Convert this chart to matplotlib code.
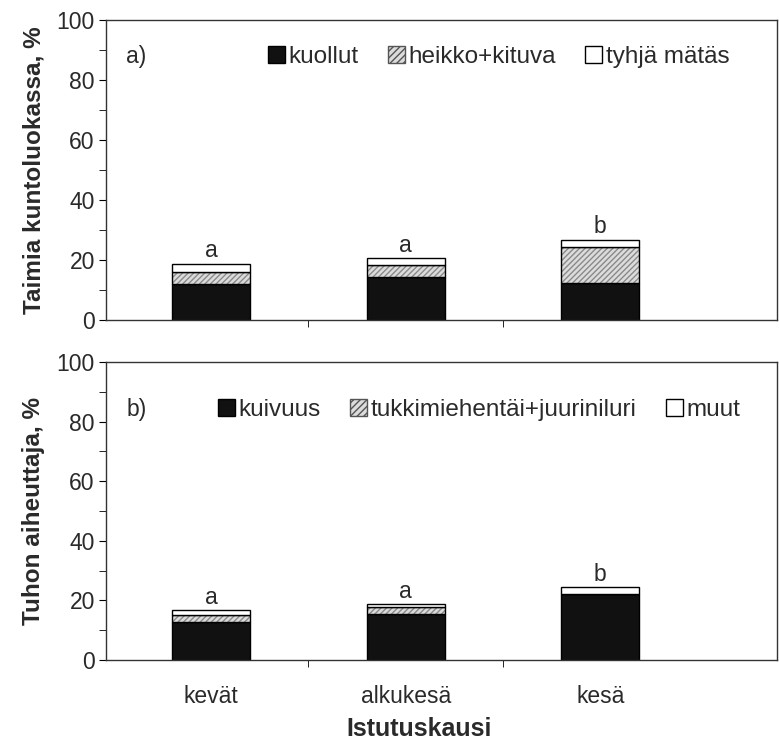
import matplotlib
matplotlib.use("Agg")
import matplotlib.pyplot as plt
from matplotlib.patches import Patch
import numpy as np

plt.rcParams['font.family'] = ['Liberation Sans', 'DejaVu Sans']

categories = ["kevät", "alkukesä", "kesä"]

# panel a) Taimia kuntoluokassa, %
kuollut = [12.0, 14.4, 12.2]
heikko_kituva = [4.0, 3.9, 12.2]
tyhja_matas = [2.7, 2.3, 2.3]
letters_a = ["a", "a", "b"]
legend_a = ["kuollut", "heikko+kituva", "tyhjä mätäs"]

# panel b) Tuhon aiheuttaja, %
kuivuus = [12.9, 15.3, 22.0]
tukkimies = [2.2, 2.6, 0.0]
muut = [1.7, 0.9, 2.6]
letters_b = ["a", "a", "b"]
legend_b = ["kuivuus", "tukkimiehentäi+juuriniluri", "muut"]

yticks = [0, 20, 40, 60, 80, 100]

txt = "#2a2a2a"
FS = 16.5
LFS = 17.5
fig = plt.figure(figsize=(7.79, 7.40), dpi=100)
ax1 = fig.add_axes([0.136, 0.568, 0.862, 0.405])
ax2 = fig.add_axes([0.136, 0.108, 0.862, 0.403])

x = np.arange(len(categories))
w = 0.4
hatch_gray = "#8a8a8a"

def draw(ax, s1, s2, s3, letters, labels, panel, ylabel, lx, ly):
    s1 = np.array(s1); s2 = np.array(s2); s3 = np.array(s3)
    ax.bar(x, s1, w, color="#111111", edgecolor="black", linewidth=1.0)
    ax.bar(x, s2, w, bottom=s1, color="#dcdcdc", edgecolor=hatch_gray,
           hatch="//////", linewidth=0)
    ax.bar(x, s2, w, bottom=s1, fill=False, edgecolor="black", linewidth=1.0)
    ax.bar(x, s3, w, bottom=s1 + s2, color="white", edgecolor="black", linewidth=1.0)
    tot = s1 + s2 + s3
    for xi, t, l in zip(x, tot, letters):
        ax.text(xi, t + 0.4, l, ha="center", va="bottom", fontsize=FS, color=txt)
    ax.set_xlim(-0.54, 2.91)
    ax.set_ylim(0, 100)
    ax.set_yticks(yticks)
    ax.set_yticks([10, 30, 50, 70, 90], minor=True)
    ax.tick_params(axis="y", which="major", length=5, labelsize=FS, labelcolor=txt,
                   direction="out", pad=3)
    ax.tick_params(axis="y", which="minor", length=5, direction="out")
    ax.set_xticks(x)
    ax.set_xticks([0.5, 1.5], minor=True)
    ax.tick_params(axis="x", which="major", length=0, labelsize=FS, labelcolor=txt, pad=18)
    ax.tick_params(axis="x", which="minor", length=5, direction="out")
    for sp in ax.spines.values():
        sp.set_linewidth(1.0)
        sp.set_color("#333333")
    ax.set_ylabel(ylabel, fontsize=17.5, fontweight="bold", color=txt, labelpad=8)
    ax.text(0.03, ly, panel, transform=ax.transAxes, fontsize=FS, color=txt, va="center")
    handles = [Patch(facecolor="#111111", edgecolor="black"),
               Patch(facecolor="#dcdcdc", edgecolor="#555555", hatch="/////"),
               Patch(facecolor="white", edgecolor="black")]
    ax.legend(handles, labels, loc="center", bbox_to_anchor=(lx, ly), ncol=3,
              frameon=False, fontsize=LFS, handlelength=0.7, handleheight=0.7,
              handletextpad=0.15, columnspacing=1.2, borderpad=0, labelcolor=txt)

draw(ax1, kuollut, heikko_kituva, tyhja_matas, letters_a, legend_a, "a)",
     "Taimia kuntoluokassa, %", 0.585, 0.877)
draw(ax2, kuivuus, tukkimies, muut, letters_b, legend_b, "b)",
     "Tuhon aiheuttaja, %", 0.556, 0.84)
ax1.set_xticklabels([])
ax2.set_xticklabels(categories)
ax2.set_xlabel("Istutuskausi", fontsize=18, fontweight="bold", color=txt, labelpad=2)
ax2.xaxis.set_label_coords(0.467, -0.19)
fig.savefig("out.png", dpi=100)
